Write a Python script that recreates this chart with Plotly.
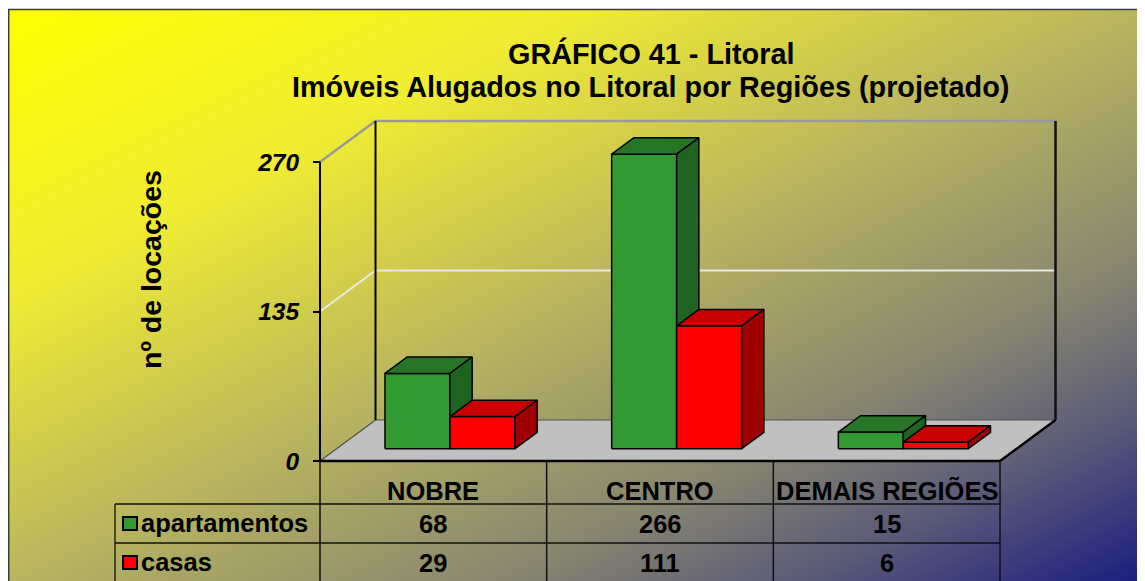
import base64
import plotly.graph_objects as go

# ---------------- data ----------------
categories = ["NOBRE", "CENTRO", "DEMAIS REGIÕES"]
series_names = ["apartamentos", "casas"]
apartamentos = [68, 266, 15]
casas = [29, 111, 6]
y_ticks = [0, 135, 270]
title_line1 = "GRÁFICO 41 - Litoral"
title_line2 = "Imóveis Alugados no Litoral por Regiões (projetado)"
y_title = "nº de locações"

# ---------------- styles / layout constants ----------------
OFF = 8                      # page body margin
W, H = 1145 - OFF, 581 - OFF  # figure size
FONT = "Liberation Sans, Arial, sans-serif"
front_colors = ["#339933", "#FF0000"]
top_colors = ["#277527", "#C80000"]
side_colors = ["#1F6321", "#A00000"]

# geometry expressed in screen pixels (page coordinates)
X0_PX, CAT_PX = 320.0, 226.67      # front plane: category -0.5 at x=320 px
Y0_PX, VAL_PX = 461.0, 1.1074      # value 0 at y=461 px, px per unit
DX = 55.5 / CAT_PX                  # depth offset (x units)
DY = 41.0 / VAL_PX                  # depth offset (value units)
BAR_W = 65.0 / CAT_PX
D0, D1 = 0.3, 0.7                   # bar depth span
YMAX = y_ticks[-1]


def u_of(px):
    return (px - X0_PX) / CAT_PX - 0.5


def v_of(py):
    return (Y0_PX - py) / VAL_PX


def pxx(p):
    return (p - OFF) / W


def pxy(p):
    return 1 - (p - OFF) / H


fig = go.Figure()


def poly(xs, ys, fill, lw=1.5, lc="black"):
    fig.add_trace(go.Scatter(
        x=list(xs) + [xs[0]], y=list(ys) + [ys[0]], mode="lines",
        fill="toself", fillcolor=fill, line=dict(color=lc, width=lw),
        hoverinfo="skip", showlegend=False))


def line(xs, ys, color, width):
    fig.add_trace(go.Scatter(
        x=xs, y=ys, mode="lines", line=dict(color=color, width=width),
        hoverinfo="skip", showlegend=False))


n = len(categories)
L, R = -0.5, n - 0.5

# floor
poly([L, R, R + DX, L + DX], [0, 0, DY, DY], "#C0C0C0", lw=0, lc="rgba(0,0,0,0)")
line([L + DX, R + DX], [DY, DY], "#505050", 1.2)
line([L, L + DX], [0, DY], "#505050", 1.2)
# gridline at middle tick and top edge
line([L, L + DX, R + DX], [y_ticks[1], y_ticks[1] + DY, y_ticks[1] + DY], "#E8E8E8", 2)
line([L, L + DX, R + DX], [YMAX, YMAX + DY, YMAX + DY], "#9A9A9A", 2.5)
# back wall verticals
line([L + DX, L + DX], [DY, YMAX + DY], "black", 2)
line([R + DX, R + DX], [DY, YMAX + DY], "#111111", 2.5)
# front axis line
line([L, L], [0, YMAX], "black", 2)

# bars
series = [apartamentos, casas]
for i in range(n):
    c = i + D0 * DX
    for s, vals in enumerate(series):
        h = vals[i]
        lx = c - BAR_W + s * BAR_W
        rx = lx + BAR_W
        f0y = D0 * DY
        f1y = D1 * DY
        ddx = (D1 - D0) * DX
        # front face
        poly([lx, rx, rx, lx], [f0y, f0y, h + f0y, h + f0y], front_colors[s])
        # top face
        poly([lx, rx, rx + ddx, lx + ddx], [h + f0y, h + f0y, h + f1y, h + f1y], top_colors[s])
        # side face
        poly([rx, rx + ddx, rx + ddx, rx], [f0y, f1y, h + f1y, h + f0y], side_colors[s])

# floor front + right edges
line([L, R, R + DX], [0, 0, DY], "black", 2.5)

# ---------------- table ----------------
shapes = []
ROW1_PX, ROW2_PX, LEFT_PX = 504, 543, 115
for yy in [ROW1_PX, ROW2_PX]:
    shapes.append(dict(type="line", xref="paper", yref="paper",
                       x0=pxx(LEFT_PX), x1=pxx(X0_PX + n * CAT_PX),
                       y0=pxy(yy), y1=pxy(yy), line=dict(color="#111111", width=1.3)))
shapes.append(dict(type="line", xref="paper", yref="paper",
                   x0=pxx(LEFT_PX), x1=pxx(LEFT_PX), y0=pxy(ROW1_PX), y1=pxy(590),
                   line=dict(color="#111111", width=1.3)))
for k in range(n + 1):
    xb = k - 0.5
    shapes.append(dict(type="line", xref="x", yref="paper",
                       x0=xb, x1=xb, y0=pxy(Y0_PX), y1=pxy(590),
                       line=dict(color="#111111", width=1.5)))

# legend keys in table
for s, yy in enumerate([523.5, 562.5]):
    shapes.append(dict(type="rect", xref="paper", yref="paper",
                       x0=pxx(123), x1=pxx(137), y0=pxy(yy - 6.5), y1=pxy(yy + 6.5),
                       fillcolor=front_colors[s], line=dict(color="black", width=2)))

# outer frame
shapes.append(dict(type="rect", xref="paper", yref="paper", layer="above",
                   x0=pxx(8.7), x1=1.05, y0=-0.05, y1=pxy(9.5),
                   line=dict(color="#3C3C3C", width=1.5)))

annotations = []
tfont = dict(family=FONT, size=25.5, color="black", weight="bold")
for i, cat in enumerate(categories):
    annotations.append(dict(x=i, y=pxy(491), xref="x", yref="paper", text=cat,
                            showarrow=False, font=tfont, xanchor="center", yanchor="middle"))
    for s, vals in enumerate(series):
        annotations.append(dict(x=i, y=pxy([524, 563][s]), xref="x", yref="paper",
                                text=str(vals[i]), showarrow=False, font=tfont,
                                xanchor="center", yanchor="middle"))
for s, name in enumerate(series_names):
    annotations.append(dict(x=pxx(139), y=pxy([523, 562][s]), xref="paper", yref="paper",
                            text=name, showarrow=False, font=tfont,
                            xanchor="left", yanchor="middle"))

# titles
annotations.append(dict(x=pxx(651), y=pxy(53), xref="paper", yref="paper", text=title_line1,
                        showarrow=False, font=dict(family=FONT, size=28.8, color="black", weight="bold"),
                        xanchor="center", yanchor="middle"))
annotations.append(dict(x=pxx(650), y=pxy(87), xref="paper", yref="paper", text=title_line2,
                        showarrow=False, font=dict(family=FONT, size=28.8, color="black", weight="bold"),
                        xanchor="center", yanchor="middle"))
annotations.append(dict(x=pxx(151), y=pxy(270), xref="paper", yref="paper", text=y_title,
                        textangle=-90, showarrow=False,
                        font=dict(family=FONT, size=28.5, color="black", weight="bold"),
                        xanchor="center", yanchor="middle"))

# background gradient (SVG image)
gw, gh = 1145 - 7, 581 - 9
stops = [(0.0, "#FFFF00"), (0.25, "#F0EC32"), (0.5, "#B9B55F"), (0.72, "#878570"),
         (0.85, "#5A5A78"), (1.0, "#1C1C80")]
stop_xml = "".join(f'<stop offset="{o}" stop-color="{c}"/>' for o, c in stops)
svg = (f'<svg xmlns="http://www.w3.org/2000/svg" width="{gw}" height="{gh}" '
       f'viewBox="0 0 {gw} {gh}" preserveAspectRatio="none"><defs>'
       f'<linearGradient id="g" x1="0" y1="0" x2="1" y2="1">{stop_xml}</linearGradient>'
       f'</defs><rect x="0" y="0" width="{gw}" height="{gh}" fill="url(#g)"/></svg>')
src = "data:image/svg+xml;base64," + base64.b64encode(svg.encode()).decode()

fig.update_layout(
    width=W, height=H, autosize=False,
    margin=dict(l=0, r=0, t=0, b=0),
    paper_bgcolor="white", plot_bgcolor="rgba(0,0,0,0)",
    showlegend=False,
    xaxis=dict(range=[u_of(OFF), u_of(OFF + W)], visible=False, fixedrange=True),
    yaxis=dict(range=[v_of(OFF + H), v_of(OFF)], showgrid=False, zeroline=False, showline=False,
               tickvals=y_ticks, ticktext=[str(t) for t in y_ticks],
               ticks="outside", ticklen=7, tickwidth=1.5, tickcolor="black",
               anchor="free", position=(X0_PX - OFF) / W, ticklabelstandoff=9,
               tickfont=dict(family=FONT, size=24.5, color="black", weight="bold", style="italic"),
               fixedrange=True),
    images=[dict(source=src, xref="paper", yref="paper", x=pxx(7), y=pxy(9),
                 sizex=gw / W, sizey=gh / H, xanchor="left", yanchor="top",
                 sizing="stretch", layer="below")],
    shapes=shapes,
    annotations=annotations,
)

fig.write_html("out.html")
